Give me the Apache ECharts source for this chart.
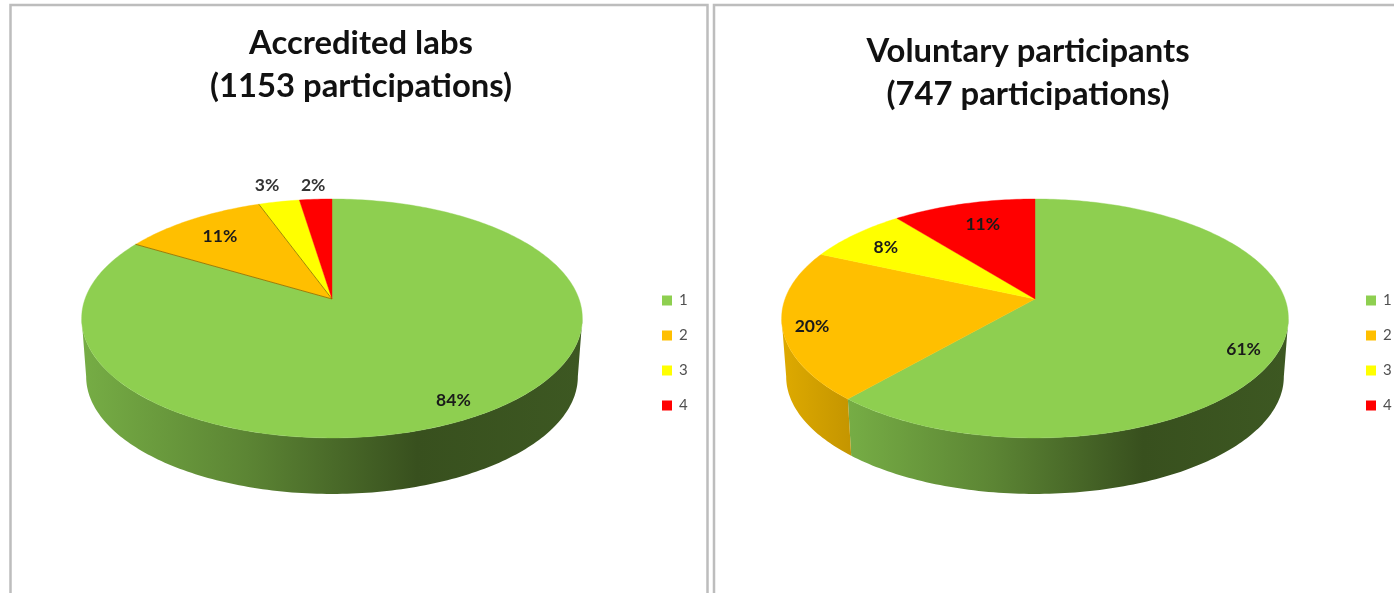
<!DOCTYPE html>
<html>
<head>
<meta charset="utf-8">
<style>html,body{margin:0;padding:0;background:#fff}#c{width:1394px;height:593px;filter:blur(0.6px)}</style>
<script src="https://cdn.jsdelivr.net/npm/echarts@6/dist/echarts.min.js"></script>
</head>
<body>
<div id="c"></div>
<script>
const categories = ['1', '2', '3', '4'];
const accreditedValues = [83.5, 10.95, 3.1, 2.45];
const voluntaryValues = [61.4, 20.3, 7.6, 10.7];
const accreditedTitle = 'Accredited labs\n(1153 participations)';
const voluntaryTitle = 'Voluntary participants\n(747 participations)';

const sliceColors = ['#8ecf50', '#ffbf00', '#ffff00', '#ff0000'];
const wallStops = [
  [[0, '#76ad45'], [0.33, '#5c8534'], [0.67, '#38501e'], [1, '#3d5822']],
  [[0, '#deaa00'], [1, '#c49500']],
  [[0, '#cccc00'], [1, '#aaaa00']],
  [[0, '#cc0000'], [1, '#aa0000']]
];

const panels = [
  { values: accreditedValues, title: accreditedTitle, cx: 332, cy: 299, rx: 247, ry: 116.3, titleX: 361, titleTop: 22,
    labelRadius: [0.87, 0.78, 1.22, 1.18], labelTurn: [0, 0, -0.5, 0], labelColor: ['#1a1a1a', '#1a1a1a', '#333', '#333'],
    edgeSlice: 1, legendX: 662 },
  { values: voluntaryValues, title: voluntaryTitle, cx: 1035, cy: 299, rx: 250, ry: 116.3, titleX: 1028, titleTop: 30,
    labelRadius: [0.876, 0.888, 0.81, 0.767], labelTurn: [6.5, -2, -0.5, 1.5], labelColor: ['#1a1a1a', '#1a1a1a', '#1a1a1a', '#1a1a1a'],
    edgeSlice: -1, legendX: 1366 }
];

const PERSP = 0.163, DEPTH = 58.5, BOTTOM_SCALE = 0.982;
const SIDE_FROM = Math.acos(-PERSP) * 180 / Math.PI, SIDE_TO = 360 - SIDE_FROM;
const rad = d => d * Math.PI / 180;

function project(p, deg, r, lower) {
  const u = Math.sin(rad(deg)) * r, v = Math.cos(rad(deg)) * r, w = 1 + PERSP * v;
  const s = lower ? BOTTOM_SCALE : 1;
  return [p.cx + s * p.rx * u / w, p.cy + (lower ? DEPTH : 0) - s * p.ry * v / w];
}
function sliceAngles(values) {
  const total = values.reduce((a, b) => a + b, 0);
  let acc = 0;
  return values.map(val => {
    const a = acc / total * 360;
    acc += val;
    return [a, acc / total * 360];
  });
}
function arc(p, a, b, lower) {
  const pts = [], n = Math.max(2, Math.ceil(b - a));
  for (let i = 0; i <= n; i++) pts.push(project(p, a + (b - a) * i / n, 1, lower));
  return pts;
}
const dataOf = p => categories.map((c, i) => ({ name: c, value: p.values[i] }));

function wallSeries(p) {
  const ang = sliceAngles(p.values);
  return {
    type: 'custom', coordinateSystem: 'none', z: 2, silent: true, animation: false, legendHoverLink: false,
    data: dataOf(p),
    renderItem: params => {
      const i = params.dataIndex;
      // Only the front-facing part of the rim shows a wall.
      const a = Math.max(ang[i][0], SIDE_FROM), b = Math.min(ang[i][1], SIDE_TO);
      if (b <= a) return null;
      return {
        type: 'polygon',
        shape: { points: arc(p, a, b, false).concat(arc(p, a, b, true).reverse()) },
        style: { fill: new echarts.graphic.LinearGradient(0, 0, 1, 0, wallStops[i].map(s => ({ offset: s[0], color: s[1] }))) }
      };
    }
  };
}
function topSeries(p) {
  const ang = sliceAngles(p.values);
  const total = p.values.reduce((x, y) => x + y, 0);
  return {
    type: 'custom', coordinateSystem: 'none', z: 3, silent: true, animation: false, legendHoverLink: false,
    data: dataOf(p),
    renderItem: params => {
      const i = params.dataIndex, [a, b] = ang[i];
      const apex = [p.cx, p.cy];
      const children = [{
        type: 'polygon', z2: 1,
        shape: { points: [apex].concat(arc(p, a, b, false)) },
        style: { fill: sliceColors[i], stroke: sliceColors[i], lineWidth: 0.4 }
      }];
      if (i === p.edgeSlice) {
        children.push({
          type: 'polyline', z2: 2,
          shape: { points: [project(p, a, 1, false), apex, project(p, b, 1, false)] },
          style: { fill: null, stroke: 'rgba(130,100,0,0.75)', lineWidth: 1 }
        });
      }
      const pos = project(p, (a + b) / 2 + p.labelTurn[i], p.labelRadius[i], false);
      children.push({
        type: 'text', z2: 10,
        style: {
          text: Math.round(p.values[i] / total * 100) + '%', x: pos[0], y: pos[1] + 1,
          align: 'center', verticalAlign: 'middle',
          font: 'bold 17.5px Lato, "Open Sans", sans-serif', fill: p.labelColor[i]
        }
      });
      return { type: 'group', children };
    }
  };
}
// Empty series give each legend its swatches.
const legendSeries = categories.map((c, i) => ({
  type: 'custom', name: c, coordinateSystem: 'none', data: [], renderItem: () => null,
  itemStyle: { color: sliceColors[i] }, silent: true, animation: false
}));

const chart = echarts.init(document.getElementById('c'), null, { renderer: 'canvas' });
chart.setOption({
  backgroundColor: '#ffffff',
  animation: false,
  title: panels.map(p => ({
    text: p.title, left: p.titleX, top: p.titleTop, textAlign: 'center', padding: 0,
    textStyle: { fontFamily: 'Lato, "Open Sans", sans-serif', fontWeight: 'bold', fontSize: 32.8, lineHeight: 43, color: '#111111' }
  })),
  legend: panels.map(p => ({
    data: categories, orient: 'vertical', left: p.legendX, top: 293, padding: 0,
    icon: 'rect', itemWidth: 10, itemHeight: 10, itemGap: 20, selectedMode: false,
    textStyle: { fontFamily: 'Lato, "Open Sans", sans-serif', fontSize: 15, color: '#505050', padding: [0, 0, 0, 2], lineHeight: 14 }
  })),
  graphic: [
    { type: 'rect', silent: true, z: 10, shape: { x: 10.5, y: 5, width: 697, height: 700 }, style: { fill: null, stroke: '#bdbdbd', lineWidth: 2.5 } },
    { type: 'rect', silent: true, z: 10, shape: { x: 714, y: 5, width: 800, height: 700 }, style: { fill: null, stroke: '#bdbdbd', lineWidth: 2.5 } }
  ],
  series: panels.map(wallSeries).concat(panels.map(topSeries)).concat(legendSeries)
});
</script>
</body>
</html>
